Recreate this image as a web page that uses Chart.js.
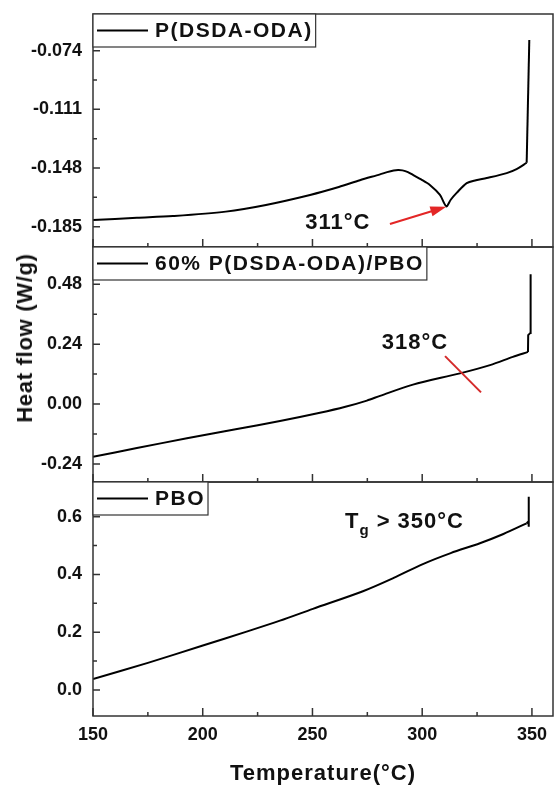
<!DOCTYPE html>
<html>
<head>
<meta charset="utf-8">
<title>DSC</title>
<script src="https://cdn.jsdelivr.net/npm/chart.js@4.4.0/dist/chart.umd.min.js"></script>
<style>
  body { margin: 0; background: #fff; }
  #wrap { position: relative; width: 554px; height: 787px; font-family: 'Liberation Sans', Arial, sans-serif; }
  #wrap canvas { position: absolute; left: 0; }
  #ylab { position: absolute; left: 25px; top: 338px; transform: translate(-50%, -50%) rotate(-90deg);
          font-weight: bold; font-size: 22px; letter-spacing: 0.7px; color: #111; white-space: nowrap; }
  #xlab { position: absolute; left: 323px; top: 773px; transform: translate(-50%, -50%);
          font-weight: bold; font-size: 22px; letter-spacing: 1px; color: #111; white-space: nowrap; }
</style>
</head>
<body>
<div id="wrap">
  <canvas id="c1" width="554" height="250" style="top:0px"></canvas>
  <canvas id="c2" width="554" height="241" style="top:244px"></canvas>
  <canvas id="c3" width="554" height="308" style="top:479px"></canvas>
  <div id="ylab">Heat flow (W/g)</div>
  <div id="xlab">Temperature(°C)</div>
</div>
<script>
const FONT = "'Liberation Sans', Arial, sans-serif";

// shared temperature axis
const xMin = 150, xMax = 359.6;
const xTicks = [150, 200, 250, 300, 350];
const xMinor = [175, 225, 275, 325];

// P(DSDA-ODA)
const temps1 = [150, 170, 186.4, 210.5, 228.8, 248.9, 262, 271.6, 280.8, 284, 287, 289, 291, 293.5, 295.8, 299.5, 303.5, 308.1, 311, 313, 315.7, 320.3, 324.5, 329.4, 338.5, 343, 347.6, 348.8];
const flow1 = [-0.1808, -0.1794, -0.1783, -0.1755, -0.1713, -0.1650, -0.1600, -0.1557, -0.1520, -0.1506, -0.1496, -0.1493, -0.1495, -0.1506, -0.1524, -0.1552, -0.1587, -0.1650, -0.1722, -0.1680, -0.1637, -0.1575, -0.1557, -0.1543, -0.1512, -0.1487, -0.1447, -0.0673];
const yTicks1 = [-0.185, -0.148, -0.111, -0.074];
const yMinor1 = [-0.1665, -0.1295, -0.0925];

// 60% P(DSDA-ODA)/PBO
const temps2 = [150, 170, 192.8, 215, 235.2, 253.4, 265, 274.8, 280.8, 295.8, 317.2, 330.9, 341.3, 348.2, 348.3, 349.3, 349.4];
const flow2 = [-0.211, -0.176, -0.137, -0.101, -0.068, -0.035, -0.011, 0.014, 0.033, 0.078, 0.123, 0.156, 0.189, 0.209, 0.276, 0.285, 0.520];
const yTicks2 = [-0.24, 0.00, 0.24, 0.48];
const yMinor2 = [-0.12, 0.12, 0.36];

// PBO
const temps3 = [150, 175, 199.7, 220, 235.2, 250.2, 273, 287, 300.3, 313, 326.3, 337, 347.6, 348.4, 348.5, 348.6];
const flow3 = [0.038, 0.094, 0.153, 0.202, 0.240, 0.281, 0.342, 0.388, 0.436, 0.474, 0.508, 0.540, 0.577, 0.583, 0.565, 0.669];
const yTicks3 = [0.0, 0.2, 0.4, 0.6];
const yMinor3 = [0.1, 0.3, 0.5];

// transition marks
const tg1 = 311, tg2 = 318;

function panelDecor(p) {
  return {
    id: 'decor',
    afterDatasetsDraw(chart) {
      const { ctx, chartArea: a, scales: { x, y } } = chart;
      ctx.save();
      // frame + inward ticks
      ctx.strokeStyle = '#333';
      ctx.lineWidth = 1.5;
      ctx.strokeRect(a.left, a.top, a.right - a.left, a.bottom - a.top);
      ctx.beginPath();
      xTicks.forEach(v => { const px = x.getPixelForValue(v); ctx.moveTo(px, a.bottom); ctx.lineTo(px, a.bottom - 8); });
      xMinor.forEach(v => { const px = x.getPixelForValue(v); ctx.moveTo(px, a.bottom); ctx.lineTo(px, a.bottom - 4); });
      p.yTicks.forEach(v => { const py = y.getPixelForValue(v); ctx.moveTo(a.left, py); ctx.lineTo(a.left + 7, py); });
      p.yMinor.forEach(v => { const py = y.getPixelForValue(v); ctx.moveTo(a.left, py); ctx.lineTo(a.left + 4, py); });
      ctx.stroke();

      // legend box in the top-left corner
      ctx.font = 'bold 21px ' + FONT;
      ctx.letterSpacing = '1.5px';
      const label = chart.data.datasets[0].label;
      const w = 62 + ctx.measureText(label).width + 3;
      const h = 33;
      ctx.fillStyle = '#fff';
      ctx.fillRect(a.left, a.top, w, h);
      ctx.lineWidth = 1.2;
      ctx.strokeRect(a.left, a.top, w, h);
      ctx.strokeStyle = '#000';
      ctx.lineWidth = 2;
      ctx.beginPath();
      ctx.moveTo(a.left + 4, a.top + 16.5);
      ctx.lineTo(a.left + 55, a.top + 16.5);
      ctx.stroke();
      ctx.fillStyle = '#111';
      ctx.textBaseline = 'middle';
      ctx.textAlign = 'left';
      ctx.fillText(label, a.left + 62, a.top + 17.5);

      ctx.letterSpacing = '1px';
      if (p.notes) p.notes(ctx, x, y);
      ctx.restore();
    }
  };
}

function makePanel(id, p) {
  const pts = p.temps.map((t, i) => ({ x: t, y: p.flow[i] }));
  return new Chart(document.getElementById(id), {
    type: 'line',
    data: {
      datasets: [{
        // smooth scan up to the end-of-run jump
        label: p.label,
        data: pts.slice(0, p.jump + 1),
        borderColor: '#000',
        borderWidth: 2,
        pointRadius: 0,
        fill: false,
        tension: 0.3
      }, {
        // instrument jump at the end of the scan
        label: p.label,
        data: pts.slice(p.jump),
        borderColor: '#000',
        borderWidth: 2,
        pointRadius: 0,
        fill: false,
        tension: 0
      }]
    },
    options: {
      responsive: false,
      animation: false,
      events: [],
      layout: { padding: { top: p.padTop, bottom: p.padBottom, left: 0, right: 1 } },
      plugins: { legend: { display: false }, tooltip: { enabled: false } },
      scales: {
        x: {
          type: 'linear',
          min: xMin,
          max: xMax,
          display: p.showX,
          afterBuildTicks: s => { s.ticks = xTicks.map(v => ({ value: v })); },
          afterFit: s => {
            s.height = p.showX ? 71 : 0;
            s.paddingLeft = 0; s.paddingRight = 0;
          },
          grid: { display: false, drawTicks: false },
          border: { display: false },
          ticks: { color: '#111', font: { family: FONT, size: 18, weight: 'bold' }, padding: 8, maxRotation: 0, autoSkip: false }
        },
        y: {
          type: 'linear',
          min: p.yMin,
          max: p.yMax,
          afterBuildTicks: s => { s.ticks = p.yTicks.map(v => ({ value: v })); },
          afterFit: s => {
            s.width = 93;
            s.paddingTop = 0; s.paddingBottom = 0;
          },
          grid: { display: false, drawTicks: false },
          border: { display: false },
          ticks: {
            color: '#111',
            font: { family: FONT, size: 18, weight: 'bold' },
            padding: 11,
            autoSkip: false,
            callback: v => Number(v).toFixed(p.digits)
          }
        }
      }
    },
    plugins: [panelDecor(p)]
  });
}

makePanel('c1', {
  label: 'P(DSDA-ODA)', temps: temps1, flow: flow1, jump: temps1.length - 2,
  yMin: -0.1978, yMax: -0.0509, yTicks: yTicks1, yMinor: yMinor1, digits: 3,
  padTop: 14, padBottom: 3, showX: false,
  notes(ctx, x, y) {
    ctx.fillStyle = '#111';
    ctx.font = 'bold 22px ' + FONT;
    ctx.textAlign = 'center';
    ctx.textBaseline = 'middle';
    ctx.fillText(tg1 + '°C', x.getPixelForValue(261.6), y.getPixelForValue(-0.1828));
    // red arrow pointing at the dip
    const x0 = x.getPixelForValue(285.3), y0 = y.getPixelForValue(-0.1833);
    const x1 = x.getPixelForValue(tg1), y1 = y.getPixelForValue(-0.1724);
    const ang = Math.atan2(y1 - y0, x1 - x0);
    ctx.strokeStyle = '#e32626';
    ctx.fillStyle = '#e32626';
    ctx.lineWidth = 2;
    ctx.beginPath();
    ctx.moveTo(x0, y0);
    ctx.lineTo(x1 - 12 * Math.cos(ang), y1 - 12 * Math.sin(ang));
    ctx.stroke();
    ctx.beginPath();
    ctx.moveTo(x1, y1);
    ctx.lineTo(x1 - 16 * Math.cos(ang) + 5 * Math.sin(ang), y1 - 16 * Math.sin(ang) - 5 * Math.cos(ang));
    ctx.lineTo(x1 - 16 * Math.cos(ang) - 5 * Math.sin(ang), y1 - 16 * Math.sin(ang) + 5 * Math.cos(ang));
    ctx.closePath();
    ctx.fill();
  }
});

makePanel('c2', {
  label: '60% P(DSDA-ODA)/PBO', temps: temps2, flow: flow2, jump: temps2.length - 4,
  yMin: -0.312, yMax: 0.629, yTicks: yTicks2, yMinor: yMinor2, digits: 2,
  padTop: 3, padBottom: 3, showX: false,
  notes(ctx, x, y) {
    ctx.fillStyle = '#111';
    ctx.font = 'bold 22px ' + FONT;
    ctx.textAlign = 'center';
    ctx.textBaseline = 'middle';
    ctx.fillText(tg2 + '°C', x.getPixelForValue(296.7), y.getPixelForValue(0.245));
    // red tick across the curve
    ctx.strokeStyle = '#d42a2a';
    ctx.lineWidth = 2;
    ctx.beginPath();
    ctx.moveTo(x.getPixelForValue(310.4), y.getPixelForValue(0.192));
    ctx.lineTo(x.getPixelForValue(326.8), y.getPixelForValue(0.047));
    ctx.stroke();
  }
});

makePanel('c3', {
  label: 'PBO', temps: temps3, flow: flow3, jump: temps3.length - 4,
  yMin: -0.09, yMax: 0.72, yTicks: yTicks3, yMinor: yMinor3, digits: 1,
  padTop: 3, padBottom: 0, showX: true,
  notes(ctx, x, y) {
    ctx.fillStyle = '#111';
    ctx.textAlign = 'left';
    ctx.textBaseline = 'middle';
    let px = x.getPixelForValue(264.8);
    const py = y.getPixelForValue(0.582);
    ctx.font = 'bold 22px ' + FONT;
    ctx.fillText('T', px, py);
    px += ctx.measureText('T').width;
    ctx.font = 'bold 15px ' + FONT;
    ctx.fillText('g', px, py + 9);
    px += ctx.measureText('g').width;
    ctx.font = 'bold 22px ' + FONT;
    ctx.fillText(' > 350°C', px, py);
  }
});
</script>
</body>
</html>
